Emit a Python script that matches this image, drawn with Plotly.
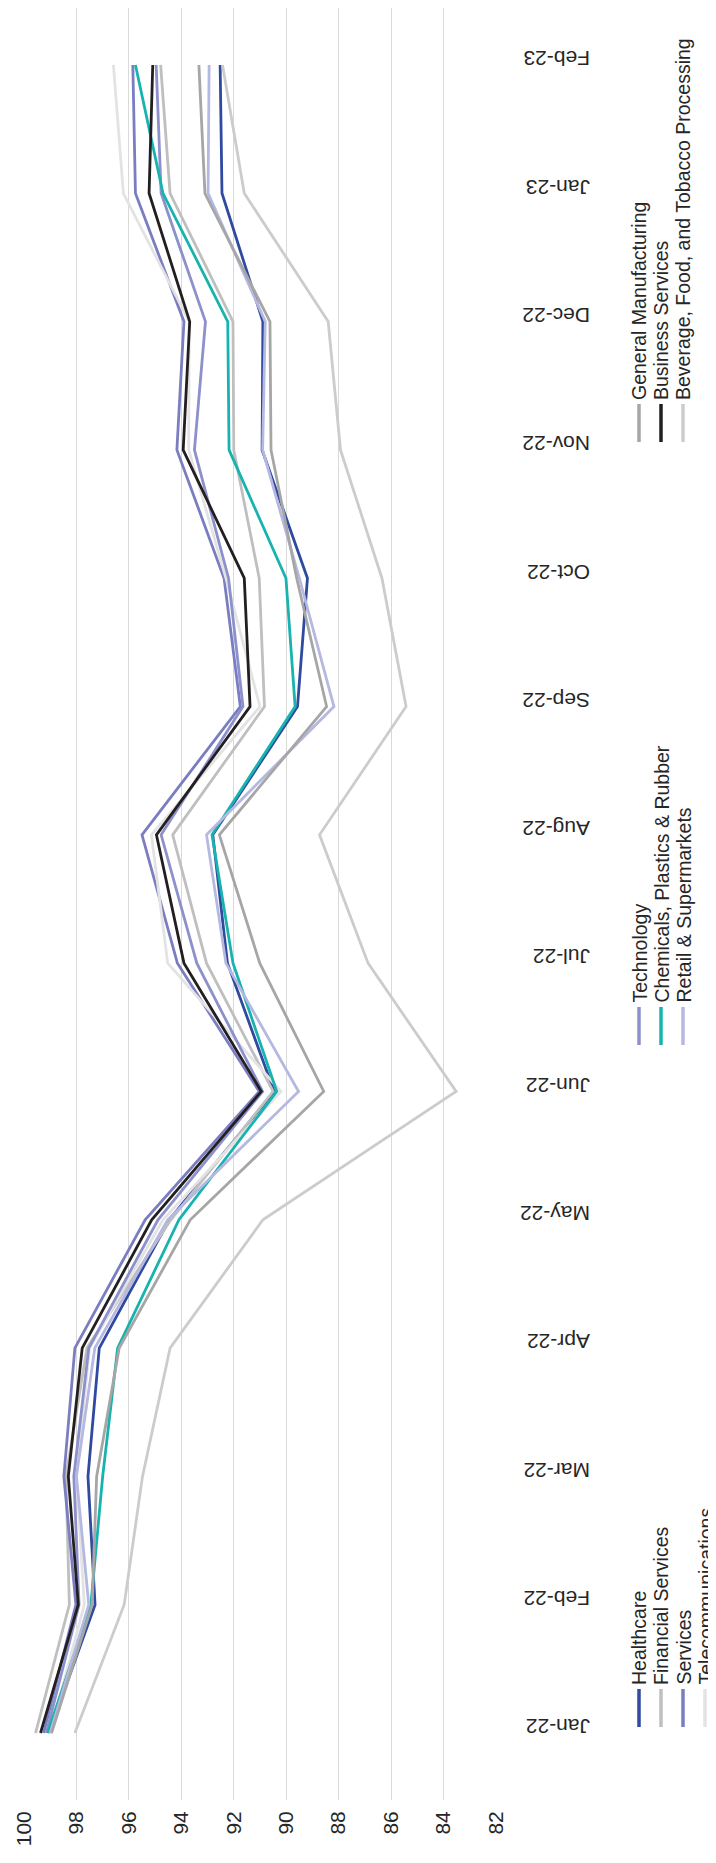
import plotly.graph_objects as go

# categories (rotated chart: months run bottom -> top)
months = ["Jan-22", "Feb-22", "Mar-22", "Apr-22", "May-22", "Jun-22", "Jul-22",
          "Aug-22", "Sep-22", "Oct-22", "Nov-22", "Dec-22", "Jan-23", "Feb-23"]

healthcare = [99.05, 97.29, 97.56, 97.13, 94.46, 90.46, 92.24, 92.80, 89.57, 89.19, 90.92, 90.89, 92.45, 92.52]
financial = [99.56, 98.27, 98.40, 97.60, 94.40, 90.50, 93.04, 94.33, 90.83, 91.03, 92.00, 92.03, 94.43, 94.79]
services = [99.25, 98.02, 98.48, 98.06, 95.38, 91.03, 94.15, 95.50, 91.75, 92.37, 94.17, 93.90, 95.75, 95.85]
telecom = [99.00, 97.70, 98.00, 97.50, 94.70, 90.20, 94.52, 95.14, 91.00, 92.30, 93.72, 93.70, 96.21, 96.59]
technology = [99.15, 97.90, 98.10, 97.53, 94.89, 90.90, 93.41, 94.77, 91.65, 92.20, 93.50, 93.08, 94.77, 94.96]
chemicals = [99.10, 97.45, 97.00, 96.43, 94.09, 90.36, 92.03, 92.83, 89.66, 90.01, 92.18, 92.23, 94.70, 95.75]
retail = [99.00, 97.53, 98.00, 97.30, 94.52, 89.53, 92.30, 93.04, 88.18, 89.50, 90.90, 90.80, 92.98, 92.94]
gen_mfg = [98.95, 97.40, 97.23, 96.37, 93.66, 88.57, 91.01, 92.55, 88.46, 89.60, 90.58, 90.62, 93.10, 93.33]
business = [99.37, 97.93, 98.31, 97.78, 95.13, 90.95, 93.90, 94.95, 91.38, 91.60, 93.93, 93.68, 95.23, 95.09]
beverage = [98.06, 96.18, 95.48, 94.43, 90.89, 83.52, 86.88, 88.73, 85.43, 86.35, 87.93, 88.40, 91.60, 92.43]

value_ticks = [100, 98, 96, 94, 92, 90, 88, 86, 84, 82]

series = [
    ("Healthcare", healthcare, "#2F4A9F"),
    ("Financial Services", financial, "#BFBFBF"),
    ("Services", services, "#7A7EC0"),
    ("Telecommunications", telecom, "#E3E3E3"),
    ("Technology", technology, "#8C90CB"),
    ("Chemicals, Plastics & Rubber", chemicals, "#17B3AE"),
    ("Retail & Supermarkets", retail, "#B5B8E0"),
    ("General Manufacturing", gen_mfg, "#A6A6A6"),
    ("Business Services", business, "#231F20"),
    ("Beverage, Food, and Tobacco Processing", beverage, "#CCCCCC"),
]

# the page body keeps its default 8px margin, so the figure is drawn 8px in
PAGE_OFF = 8
W, H = 716 - PAGE_OFF, 1863 - PAGE_OFF
L, R, T, B = 16, 220, 0, 63
FONT = "Arial, Liberation Sans, sans-serif"
TXT = "#262626"

fig = go.Figure()
for name, vals, col in series:
    fig.add_trace(go.Scatter(x=vals, y=months, mode="lines", name=name,
                             line=dict(color=col, width=2.8), showlegend=False))


# page pixel -> paper helpers for the hand-made (rotated) legend
def px_x(p):
    return (p - PAGE_OFF - L) / (W - L - R)


def px_y(p):
    return (H - B - (p - PAGE_OFF)) / (H - T - B)


# legend: three groups, each a set of columns; (marker bottom y, names)
legend_groups = [
    (1727, ["Healthcare", "Financial Services", "Services", "Telecommunications"]),
    (1045, ["Technology", "Chemicals, Plastics & Rubber", "Retail & Supermarkets"]),
    (442, ["General Manufacturing", "Business Services", "Beverage, Food, and Tobacco Processing"]),
]
colors = {n: c for n, _, c in series}
col_x = [639, 661, 683, 705]
for base, names in legend_groups:
    for i, n in enumerate(names):
        cx = col_x[i]
        fig.add_shape(type="line", xref="paper", yref="paper",
                      x0=px_x(cx), x1=px_x(cx), y0=px_y(base), y1=px_y(base - 38),
                      line=dict(color=colors[n], width=3.5))
        fig.add_annotation(text=n, xref="paper", yref="paper",
                           x=px_x(cx), y=px_y(base - 41), textangle=-90,
                           xanchor="center", yanchor="bottom", showarrow=False,
                           borderpad=0,
                           font=dict(size=19.5, color=TXT, family=FONT))

fig.update_layout(
    width=W, height=H,
    margin=dict(l=L, r=R, t=T, b=B, autoexpand=False),
    plot_bgcolor="white", paper_bgcolor="white",
    font=dict(family=FONT, size=20, color=TXT),
    showlegend=False,
)
fig.update_xaxes(range=[100, 82], tickvals=value_ticks, tickangle=-90,
                 showgrid=True, gridcolor="#D9D9D9", gridwidth=1,
                 zeroline=False, showline=False, ticks="", ticklabelstandoff=6,
                 automargin=False, tickfont=dict(size=21, color=TXT))
fig.update_yaxes(type="category", categoryarray=months, range=[-0.522, 13.444],
                 side="right", showgrid=False, zeroline=False, showline=False,
                 tickangle=180, ticks="", ticklabelstandoff=93,
                 automargin=False, tickfont=dict(size=21, color=TXT))

fig.write_html("out.html")
